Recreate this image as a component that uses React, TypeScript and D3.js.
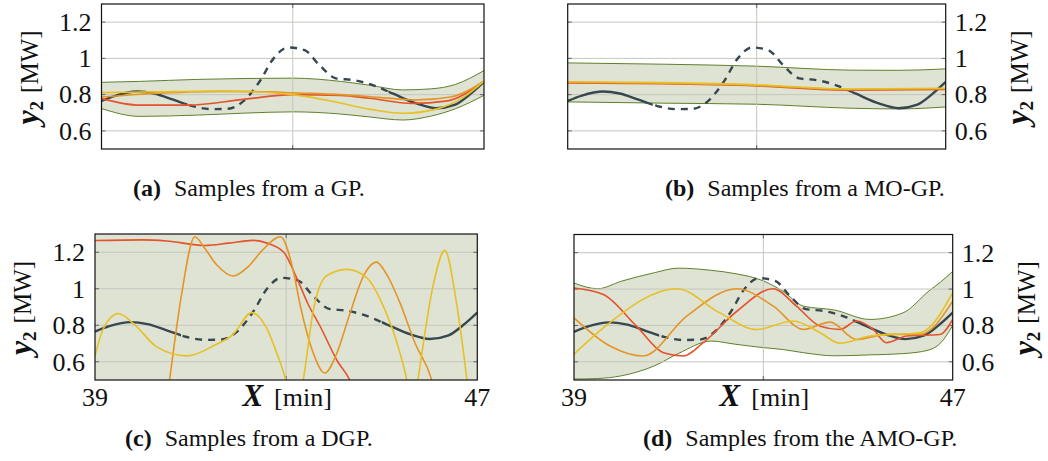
import React from 'react';
import * as d3 from 'd3';

type Pt = [number, number];

const X_DOMAIN: [number, number] = [39, 47];
const Y_DOMAIN: [number, number] = [0.5, 1.3];
const yTicks = [0.6, 0.8, 1, 1.2];
const yTickLabels = ['0.6', '0.8', '1', '1.2'];
const xGrid = [43];
const xTickLabels = [39, 47];

// Ground truth (dashed inside the gap)
const truth: Pt[] = [
  [39.0, 0.765], [39.3, 0.795], [39.75, 0.817], [40.1, 0.806], [40.5, 0.772], [40.9, 0.737],
  [41.3, 0.72], [41.65, 0.722], [41.95, 0.76], [42.3, 0.87], [42.6, 1.0], [42.9, 1.06],
  [43.25, 1.045], [43.55, 0.965], [43.9, 0.89], [44.27, 0.88], [44.7, 0.85], [45.1, 0.805],
  [45.6, 0.75], [46.0, 0.725], [46.4, 0.745], [46.7, 0.8], [47.0, 0.87],
];
const dashedSpan: [number, number] = [40.8, 45.0];

// (a) GP
const gpBandT = [39, 39.8, 41, 42, 43, 44, 44.6, 45.3, 45.9, 46.4, 47];
const gpUpper = [0.868, 0.873, 0.884, 0.889, 0.891, 0.873, 0.852, 0.826, 0.832, 0.856, 0.933];
const gpLower = [0.723, 0.68, 0.687, 0.698, 0.705, 0.693, 0.677, 0.66, 0.682, 0.722, 0.796];
const gpRed: Pt[] = [[39, 0.778], [39.8, 0.742], [40.8, 0.742], [42, 0.775], [43, 0.8], [44, 0.795], [44.6, 0.78], [45.5, 0.752], [46.2, 0.764], [47, 0.874]];
const gpOrange: Pt[] = [[39, 0.787], [40, 0.805], [41.5, 0.818], [42.5, 0.815], [43, 0.81], [44, 0.8], [44.8, 0.785], [45.6, 0.771], [46.3, 0.787], [47, 0.874]];
const gpYellow: Pt[] = [[39, 0.811], [40, 0.815], [41.5, 0.82], [42.5, 0.812], [43, 0.8], [43.8, 0.765], [44.6, 0.72], [45.3, 0.697], [46, 0.72], [46.6, 0.79], [47, 0.874]];

// (b) MO-GP
const mogpBandT = [39, 41, 43, 45, 46, 47];
const mogpUpper = [0.975, 0.968, 0.957, 0.935, 0.934, 0.942];
const mogpLower = [0.76, 0.753, 0.747, 0.725, 0.721, 0.732];
const mogpRed: Pt[] = [[39, 0.865], [41, 0.86], [43, 0.848], [45, 0.825], [47, 0.829]];
const mogpOrange: Pt[] = [[39, 0.868], [41, 0.863], [43, 0.851], [45, 0.828], [47, 0.832]];
const mogpYellow: Pt[] = [[39, 0.871], [41, 0.866], [43, 0.854], [45, 0.831], [47, 0.835]];

// (c) DGP
const dgpBandT = [39, 47];
const dgpUpper = [1.6, 1.6];
const dgpLower = [0.2, 0.2];
const dgpRed: Pt[] = [
  [39, 1.264], [40, 1.268], [40.5, 1.262], [41.3, 1.237], [41.8, 1.25], [42.3, 1.265], [42.6, 1.25],
  [42.95, 1.2], [43.22, 1.06], [43.46, 0.915], [43.7, 0.8], [44.08, 0.6], [44.33, 0.5], [44.6, 0.3],
];
const dgpOrange: Pt[] = [
  [40.3, 0.0], [40.56, 0.5], [40.8, 0.95], [41.09, 1.285], [41.3, 1.22], [41.55, 1.13], [41.89, 1.07],
  [42.2, 1.12], [42.5, 1.21], [42.88, 1.285], [43.15, 1.097], [43.29, 0.915], [43.55, 0.66], [43.81, 0.538],
  [44.05, 0.64], [44.33, 0.86], [44.6, 1.06], [44.89, 1.146], [45.1, 1.08], [45.38, 0.924], [45.7, 0.7],
  [46.04, 0.505], [46.3, 0.2],
];
const dgpYellow: Pt[] = [
  [39, 0.632], [39.17, 0.778], [39.49, 0.864], [39.8, 0.81], [40.3, 0.68], [40.92, 0.632], [41.5, 0.69],
  [41.89, 0.75], [42.28, 0.869], [42.6, 0.78], [42.8, 0.65], [42.97, 0.52], [43.15, 0.3], [43.36, 0.505],
  [43.56, 0.87], [43.84, 1.07], [44.27, 1.106], [44.69, 1.06], [45.03, 0.906], [45.38, 0.65], [45.52, 0.505],
  [45.64, 0.3], [45.76, 0.505], [46.07, 1.01], [46.32, 1.21], [46.56, 0.93], [46.78, 0.505], [46.95, 0.1],
];

// (d) AMO-GP
const amoBandT = [39, 39.5, 40, 40.7, 41.2, 41.9, 42.4, 43, 43.4, 43.85, 44.5, 45.25, 45.95, 46.5, 46.75, 47];
const amoUpper = [1.033, 1.002, 1.043, 1.09, 1.115, 1.103, 1.085, 1.045, 0.99, 0.906, 0.885, 0.833, 0.869, 0.99, 1.04, 1.097];
const amoLower = [0.505, 0.508, 0.523, 0.578, 0.645, 0.714, 0.697, 0.678, 0.668, 0.65, 0.633, 0.638, 0.645, 0.665, 0.705, 0.8];
const amoRed: Pt[] = [
  [39, 1.006], [39.62, 0.97], [40.32, 0.796], [40.89, 0.65], [41.31, 0.632], [41.73, 0.705], [42.44, 0.878],
  [43.21, 1.002], [43.7, 0.906], [44.2, 0.796], [44.62, 0.778], [44.97, 0.824], [45.32, 0.778], [45.6, 0.705],
  [46.03, 0.742], [46.73, 0.75], [47, 0.833],
];
const amoOrange: Pt[] = [
  [39, 0.842], [39.76, 0.687], [40.46, 0.632], [41.38, 0.851], [42.44, 1.002], [43.21, 0.906], [43.85, 0.778],
  [44.41, 0.818], [44.97, 0.723], [45.6, 0.751], [46.31, 0.751], [47, 0.933],
];
const amoYellow: Pt[] = [
  [39, 0.642], [39.62, 0.787], [41.17, 1.002], [42.08, 0.869], [42.86, 0.778], [43.63, 0.824], [44.2, 0.76],
  [44.62, 0.702], [45.25, 0.742], [46.31, 0.76], [47, 0.979],
];

const RED = '#e4532b';
const ORANGE = '#e39527';
const YELLOW = '#e6c024';
const TRUTH = '#37474f';
const BAND_FILL = '#dfe3d3';
const BAND_EDGE = '#5f7f2c';
const SERIF = "'Liberation Serif', 'Times New Roman', Times, serif";
const serifStyle = { fontFamily: SERIF } as React.CSSProperties;
const TICK_FS = 26;
const CAP_FS = 24;

type Box = { x0: number; x1: number; y0: number; y1: number };

function zip(t: number[], v: number[]): Pt[] {
  return t.map((tt, i) => [tt, v[i]] as Pt);
}

function Panel(props: {
  id: string;
  box: Box;
  side: 'left' | 'right';
  showX: boolean;
  bandT: number[];
  upper: number[];
  lower: number[];
  red: Pt[];
  orange: Pt[];
  yellow: Pt[];
  caption: string;
  letter: string;
  capX: number;
  capY: number;
}) {
  const { id, box, side, showX, bandT, upper, lower, red, orange, yellow, caption, letter, capX, capY } = props;
  const x = d3.scaleLinear().domain(X_DOMAIN).range([box.x0, box.x1]);
  const y = d3.scaleLinear().domain(Y_DOMAIN).range([box.y1, box.y0]);
  const line = d3.line<Pt>().x(d => x(d[0])).y(d => y(d[1])).curve(d3.curveMonotoneX);
  const area = d3
    .area<number>()
    .x(d => x(d))
    .y0((_, i) => y(lower[i]))
    .y1((_, i) => y(upper[i]))
    .curve(d3.curveMonotoneX);
  const upLine = line(zip(bandT, upper)) || '';
  const loLine = line(zip(bandT, lower)) || '';
  const clip = `clip-${id}`;
  const clipDash = `clipd-${id}`;
  const clipSolidL = `clipl-${id}`;
  const clipSolidR = `clipr-${id}`;
  const w = box.x1 - box.x0;
  const h = box.y1 - box.y0;
  const cy = (box.y0 + box.y1) / 2 + 1;
  const labX = side === 'left' ? box.x0 - 73 : box.x1 + 73;
  const tickLen = 4;
  const gridColor = '#c4c6c0';
  const tickColor = '#666';
  const truthPath = line(truth) || '';
  return (
    <g>
      <defs>
        <clipPath id={clip}>
          <rect x={box.x0} y={box.y0} width={w} height={h} />
        </clipPath>
        <clipPath id={clipDash}>
          <rect x={x(dashedSpan[0])} y={box.y0} width={x(dashedSpan[1]) - x(dashedSpan[0])} height={h} />
        </clipPath>
        <clipPath id={clipSolidL}>
          <rect x={box.x0} y={box.y0} width={x(dashedSpan[0]) - box.x0} height={h} />
        </clipPath>
        <clipPath id={clipSolidR}>
          <rect x={x(dashedSpan[1])} y={box.y0} width={box.x1 - x(dashedSpan[1])} height={h} />
        </clipPath>
      </defs>
      <rect x={box.x0} y={box.y0} width={w} height={h} fill="#fff" />
      <g clipPath={`url(#${clip})`}>
        <path d={area(bandT) || ''} fill={BAND_FILL} />
        <path d={upLine} fill="none" stroke={BAND_EDGE} strokeWidth={1} />
        <path d={loLine} fill="none" stroke={BAND_EDGE} strokeWidth={1} />
        {yTicks.map(t => (
          <line key={t} x1={box.x0} x2={box.x1} y1={y(t)} y2={y(t)} stroke={gridColor} strokeWidth={1} />
        ))}
        {xGrid.map(t => (
          <line key={t} x1={x(t)} x2={x(t)} y1={box.y0} y2={box.y1} stroke={gridColor} strokeWidth={1} />
        ))}
        {yTicks.map(t => (
          <g key={'tk' + t}>
            <line x1={box.x0} x2={box.x0 + tickLen} y1={y(t)} y2={y(t)} stroke={tickColor} strokeWidth={1} />
            <line x1={box.x1 - tickLen} x2={box.x1} y1={y(t)} y2={y(t)} stroke={tickColor} strokeWidth={1} />
          </g>
        ))}
        {xGrid.map(t => (
          <g key={'xt' + t}>
            <line x1={x(t)} x2={x(t)} y1={box.y0} y2={box.y0 + tickLen} stroke={tickColor} strokeWidth={1} />
            <line x1={x(t)} x2={x(t)} y1={box.y1 - tickLen} y2={box.y1} stroke={tickColor} strokeWidth={1} />
          </g>
        ))}
        <g clipPath={`url(#${clipSolidL})`}>
          <path d={truthPath} fill="none" stroke={TRUTH} strokeWidth={2.4} />
        </g>
        <g clipPath={`url(#${clipSolidR})`}>
          <path d={truthPath} fill="none" stroke={TRUTH} strokeWidth={2.4} />
        </g>
        <g clipPath={`url(#${clipDash})`}>
          <path d={truthPath} fill="none" stroke={TRUTH} strokeWidth={2.4} strokeDasharray="7,6" />
        </g>
        <path d={line(red) || ''} fill="none" stroke={RED} strokeWidth={1.6} />
        <path d={line(orange) || ''} fill="none" stroke={ORANGE} strokeWidth={1.6} />
        <path d={line(yellow) || ''} fill="none" stroke={YELLOW} strokeWidth={1.6} />
      </g>
      <rect x={box.x0} y={box.y0} width={w} height={h} fill="none" stroke="#111" strokeWidth={1.2} />
      {yTicks.map((t, i) => (
        <text
          key={'yl' + t}
          x={side === 'left' ? box.x0 - 10 : box.x1 + 9}
          y={y(t)}
          dy="0.34em"
          textAnchor={side === 'left' ? 'end' : 'start'}
          style={serifStyle}
          fontSize={TICK_FS}
          fill="#111"
        >
          {yTickLabels[i]}
        </text>
      ))}
      <text
        transform={`translate(${labX},${cy}) rotate(-90)`}
        textAnchor="middle"
        style={serifStyle}
        fontSize={TICK_FS}
        fill="#111"
        dy="0.35em"
      >
        <tspan fontWeight="bold" fontStyle="italic" fontSize={32}>y</tspan>
        <tspan fontWeight="bold" fontSize={19} dy={5}>2</tspan>
        <tspan dy={-5} dx={8} fontSize={25}>[MW]</tspan>
      </text>
      {showX && (
        <g style={serifStyle} fontSize={TICK_FS} fill="#111">
          {xTickLabels.map(t => (
            <text key={'xl' + t} x={x(t)} y={box.y1 + 26} textAnchor="middle" style={serifStyle}>
              {t}
            </text>
          ))}
          <text x={(box.x0 + box.x1) / 2 + 1} y={box.y1 + 26} textAnchor="middle" style={serifStyle}>
            <tspan fontWeight="bold" fontStyle="italic" fontSize={31}>X</tspan>
            <tspan dx={11}>[min]</tspan>
          </text>
        </g>
      )}
      <text x={capX} y={capY} style={serifStyle} fontSize={CAP_FS} fill="#111">
        <tspan fontWeight="bold">({letter})</tspan>
        <tspan dx={13}>{caption}</tspan>
      </text>
    </g>
  );
}

export default function App() {
  return (
    <svg
      width={1048}
      height={461}
      viewBox="0 0 1048 461"
      style={{ position: 'absolute', left: 0, top: 0, background: '#fff', fontFamily: SERIF }}
    >
      <Panel
        id="a"
        box={{ x0: 101.5, x1: 484, y0: 4, y1: 149 }}
        side="left"
        showX={false}
        bandT={gpBandT}
        upper={gpUpper}
        lower={gpLower}
        red={gpRed}
        orange={gpOrange}
        yellow={gpYellow}
        letter="a"
        caption="Samples from a GP."
        capX={133}
        capY={196}
      />
      <Panel
        id="b"
        box={{ x0: 567.7, x1: 945.7, y0: 4, y1: 149 }}
        side="right"
        showX={false}
        bandT={mogpBandT}
        upper={mogpUpper}
        lower={mogpLower}
        red={mogpRed}
        orange={mogpOrange}
        yellow={mogpYellow}
        letter="b"
        caption="Samples from a MO-GP."
        capX={665}
        capY={196}
      />
      <Panel
        id="c"
        box={{ x0: 95, x1: 477.3, y0: 234, y1: 380 }}
        side="left"
        showX={true}
        bandT={dgpBandT}
        upper={dgpUpper}
        lower={dgpLower}
        red={dgpRed}
        orange={dgpOrange}
        yellow={dgpYellow}
        letter="c"
        caption="Samples from a DGP."
        capX={125}
        capY={445.5}
      />
      <Panel
        id="d"
        box={{ x0: 574, x1: 952.7, y0: 234.5, y1: 380 }}
        side="right"
        showX={true}
        bandT={amoBandT}
        upper={amoUpper}
        lower={amoLower}
        red={amoRed}
        orange={amoOrange}
        yellow={amoYellow}
        letter="d"
        caption="Samples from the AMO-GP."
        capX={643}
        capY={445.5}
      />
    </svg>
  );
}
